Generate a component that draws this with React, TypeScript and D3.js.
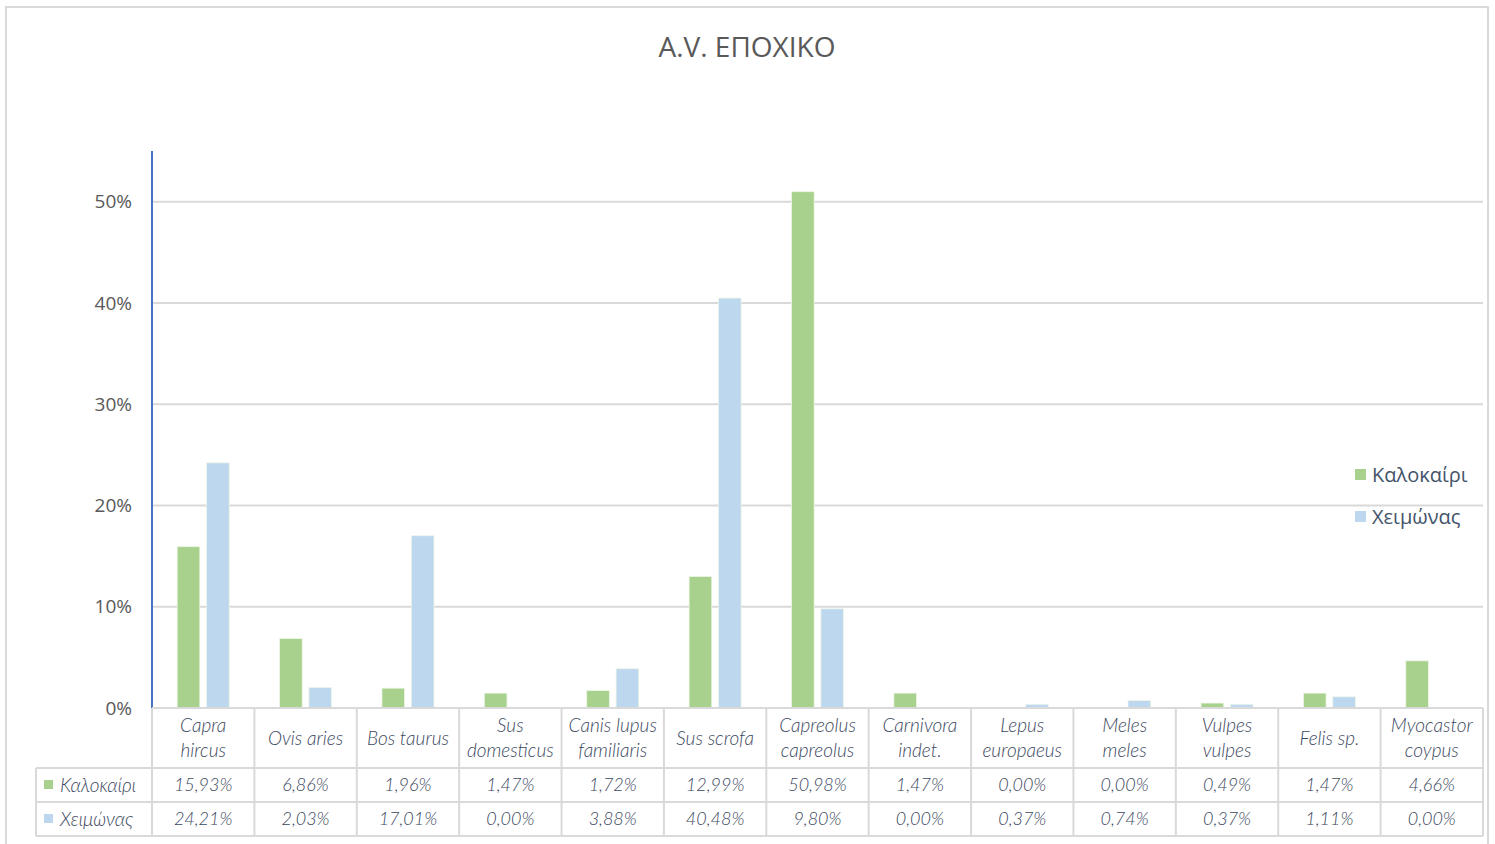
import React from "react";
import * as d3 from "d3";

// Species (category) labels, each split into display lines
const categories: string[][] = [
  ["Capra", "hircus"],
  ["Ovis aries"],
  ["Bos taurus"],
  ["Sus", "domesticus"],
  ["Canis lupus", "familiaris"],
  ["Sus scrofa"],
  ["Capreolus", "capreolus"],
  ["Carnivora", "indet."],
  ["Lepus", "europaeus"],
  ["Meles", "meles"],
  ["Vulpes", "vulpes"],
  ["Felis sp."],
  ["Myocastor", "coypus"],
];

const seriesNames = ["Καλοκαίρι", "Χειμώνας"];
const seriesColors = ["#a9d18e", "#bdd7ee"];

// Percentages per species
const summer = [15.93, 6.86, 1.96, 1.47, 1.72, 12.99, 50.98, 1.47, 0.0, 0.0, 0.49, 1.47, 4.66];
const winter = [24.21, 2.03, 17.01, 0.0, 3.88, 40.48, 9.8, 0.0, 0.37, 0.74, 0.37, 1.11, 0.0];

const yTicks = [0, 10, 20, 30, 40, 50];
const title = "A.V. ΕΠΟΧΙΚΟ";

const W = 1495;
const H = 844;
const plotLeft = 152;
const plotRight = 1483;
const plotTop = 151;
const plotBottom = 708;

const tableFont = "Lato, 'Open Sans', sans-serif";
const textColor = "#44546a";
const gridColor = "#d9d9d9";

const fmt = (v: number) => v.toFixed(2).replace(".", ",") + "%";

export default function App() {
  const series = [summer, winter];
  const idx = categories.map((_, i) => i);

  const x0 = d3.scaleBand<number>().domain(idx).range([plotLeft, plotRight]).padding(0);
  const x1 = d3
    .scaleBand<number>()
    .domain([0, 1])
    .range([0, x0.bandwidth()])
    .paddingInner(0.228)
    .paddingOuter(0.856);
  const y = d3.scaleLinear().domain([0, 55]).range([plotBottom, plotTop]);

  const row1Top = 708;
  const row2Top = 768;
  const row3Top = 802;
  const tableBottom = 836;
  const legendColLeft = 36;

  const colEdges = idx.map((i) => x0(i)!).concat([plotRight]);

  return (
    <svg
      width={W}
      height={H}
      style={{ position: "absolute", left: 0, top: 0, background: "#fff" }}
    >
      {/* chart frame */}
      <rect x={6} y={7} width={1482} height={H + 10} fill="#fff" stroke={gridColor} strokeWidth={2} />

      <text
        x={747}
        y={57}
        textAnchor="middle"
        fontFamily="'Open Sans', sans-serif"
        fontSize={28}
        fill="#595959"
      >
        {title}
      </text>

      {/* gridlines and y tick labels */}
      {yTicks.map((t) => (
        <g key={t}>
          {t > 0 && (
            <line x1={plotLeft} x2={plotRight} y1={y(t)} y2={y(t)} stroke={gridColor} strokeWidth={2} />
          )}
          <text
            x={132}
            y={y(t)}
            dy="0.35em"
            textAnchor="end"
            fontFamily="'Open Sans', sans-serif"
            fontSize={19}
            fill="#595959"
          >
            {t}%
          </text>
        </g>
      ))}

      {/* bars */}
      {series.map((vals, s) =>
        vals.map((v, i) =>
          v > 0 ? (
            <rect
              key={`${s}-${i}`}
              x={x0(i)! + x1(s)!}
              y={y(v)}
              width={x1.bandwidth()}
              height={plotBottom - y(v)}
              fill={seriesColors[s]}
              stroke="#eef6e8"
              strokeWidth={0.8}
            />
          ) : null
        )
      )}

      {/* value axis line */}
      <line x1={plotLeft} x2={plotLeft} y1={plotTop} y2={plotBottom} stroke="#4472c4" strokeWidth={2} />

      {/* data table grid */}
      <g stroke={gridColor} strokeWidth={2} fill="none">
        <line x1={plotLeft} x2={plotRight} y1={row1Top} y2={row1Top} />
        <line x1={legendColLeft} x2={plotRight} y1={row2Top} y2={row2Top} />
        <line x1={legendColLeft} x2={plotRight} y1={row3Top} y2={row3Top} />
        <line x1={legendColLeft} x2={plotRight} y1={tableBottom} y2={tableBottom} />
        <line x1={legendColLeft} x2={legendColLeft} y1={row2Top} y2={tableBottom} />
        {colEdges.map((cx, k) => (
          <line key={k} x1={cx} x2={cx} y1={row1Top} y2={tableBottom} />
        ))}
      </g>

      {/* category labels */}
      {categories.map((lines, i) => {
        const cx = x0(i)! + x0.bandwidth() / 2;
        const mid = (row1Top + row2Top) / 2;
        return (
          <text
            key={i}
            textAnchor="middle"
            fontFamily={tableFont}
            fontStyle="italic"
            fontWeight={300}
            fontSize={19}
            fill="#3b4860"
          >
            {lines.map((ln, k) => (
              <tspan key={k} x={cx} y={mid + (k - (lines.length - 1) / 2) * 25} dy="0.35em">
                {ln}
              </tspan>
            ))}
          </text>
        );
      })}

      {/* table rows */}
      {series.map((vals, s) => {
        const top = s === 0 ? row2Top : row3Top;
        const mid = (top + (s === 0 ? row3Top : tableBottom)) / 2;
        return (
          <g key={s}>
            <rect x={44} y={mid - 5} width={9} height={9} fill={seriesColors[s]} />
            <text
              x={60}
              y={mid}
              dy="0.35em"
              fontFamily={tableFont}
              fontStyle="italic"
              fontWeight={300}
              fontSize={19}
              fill="#3b4860"
            >
              {seriesNames[s]}
            </text>
            {vals.map((v, i) => (
              <text
                key={i}
                x={x0(i)! + x0.bandwidth() / 2}
                y={mid}
                dy="0.35em"
                textAnchor="middle"
                fontFamily={tableFont}
                fontStyle="italic"
                fontWeight={300}
                fontSize={18}
                fill="#3b4860"
              >
                {fmt(v)}
              </text>
            ))}
          </g>
        );
      })}

      {/* legend */}
      {seriesNames.map((name, s) => (
        <g key={name} transform={`translate(1355, ${475 + s * 42})`}>
          <rect x={0} y={-6} width={11} height={11} fill={seriesColors[s]} />
          <text
            x={17}
            y={0}
            dy="0.35em"
            fontFamily="'Open Sans', sans-serif"
            fontSize={20}
            fill={textColor}
          >
            {name}
          </text>
        </g>
      ))}
    </svg>
  );
}
